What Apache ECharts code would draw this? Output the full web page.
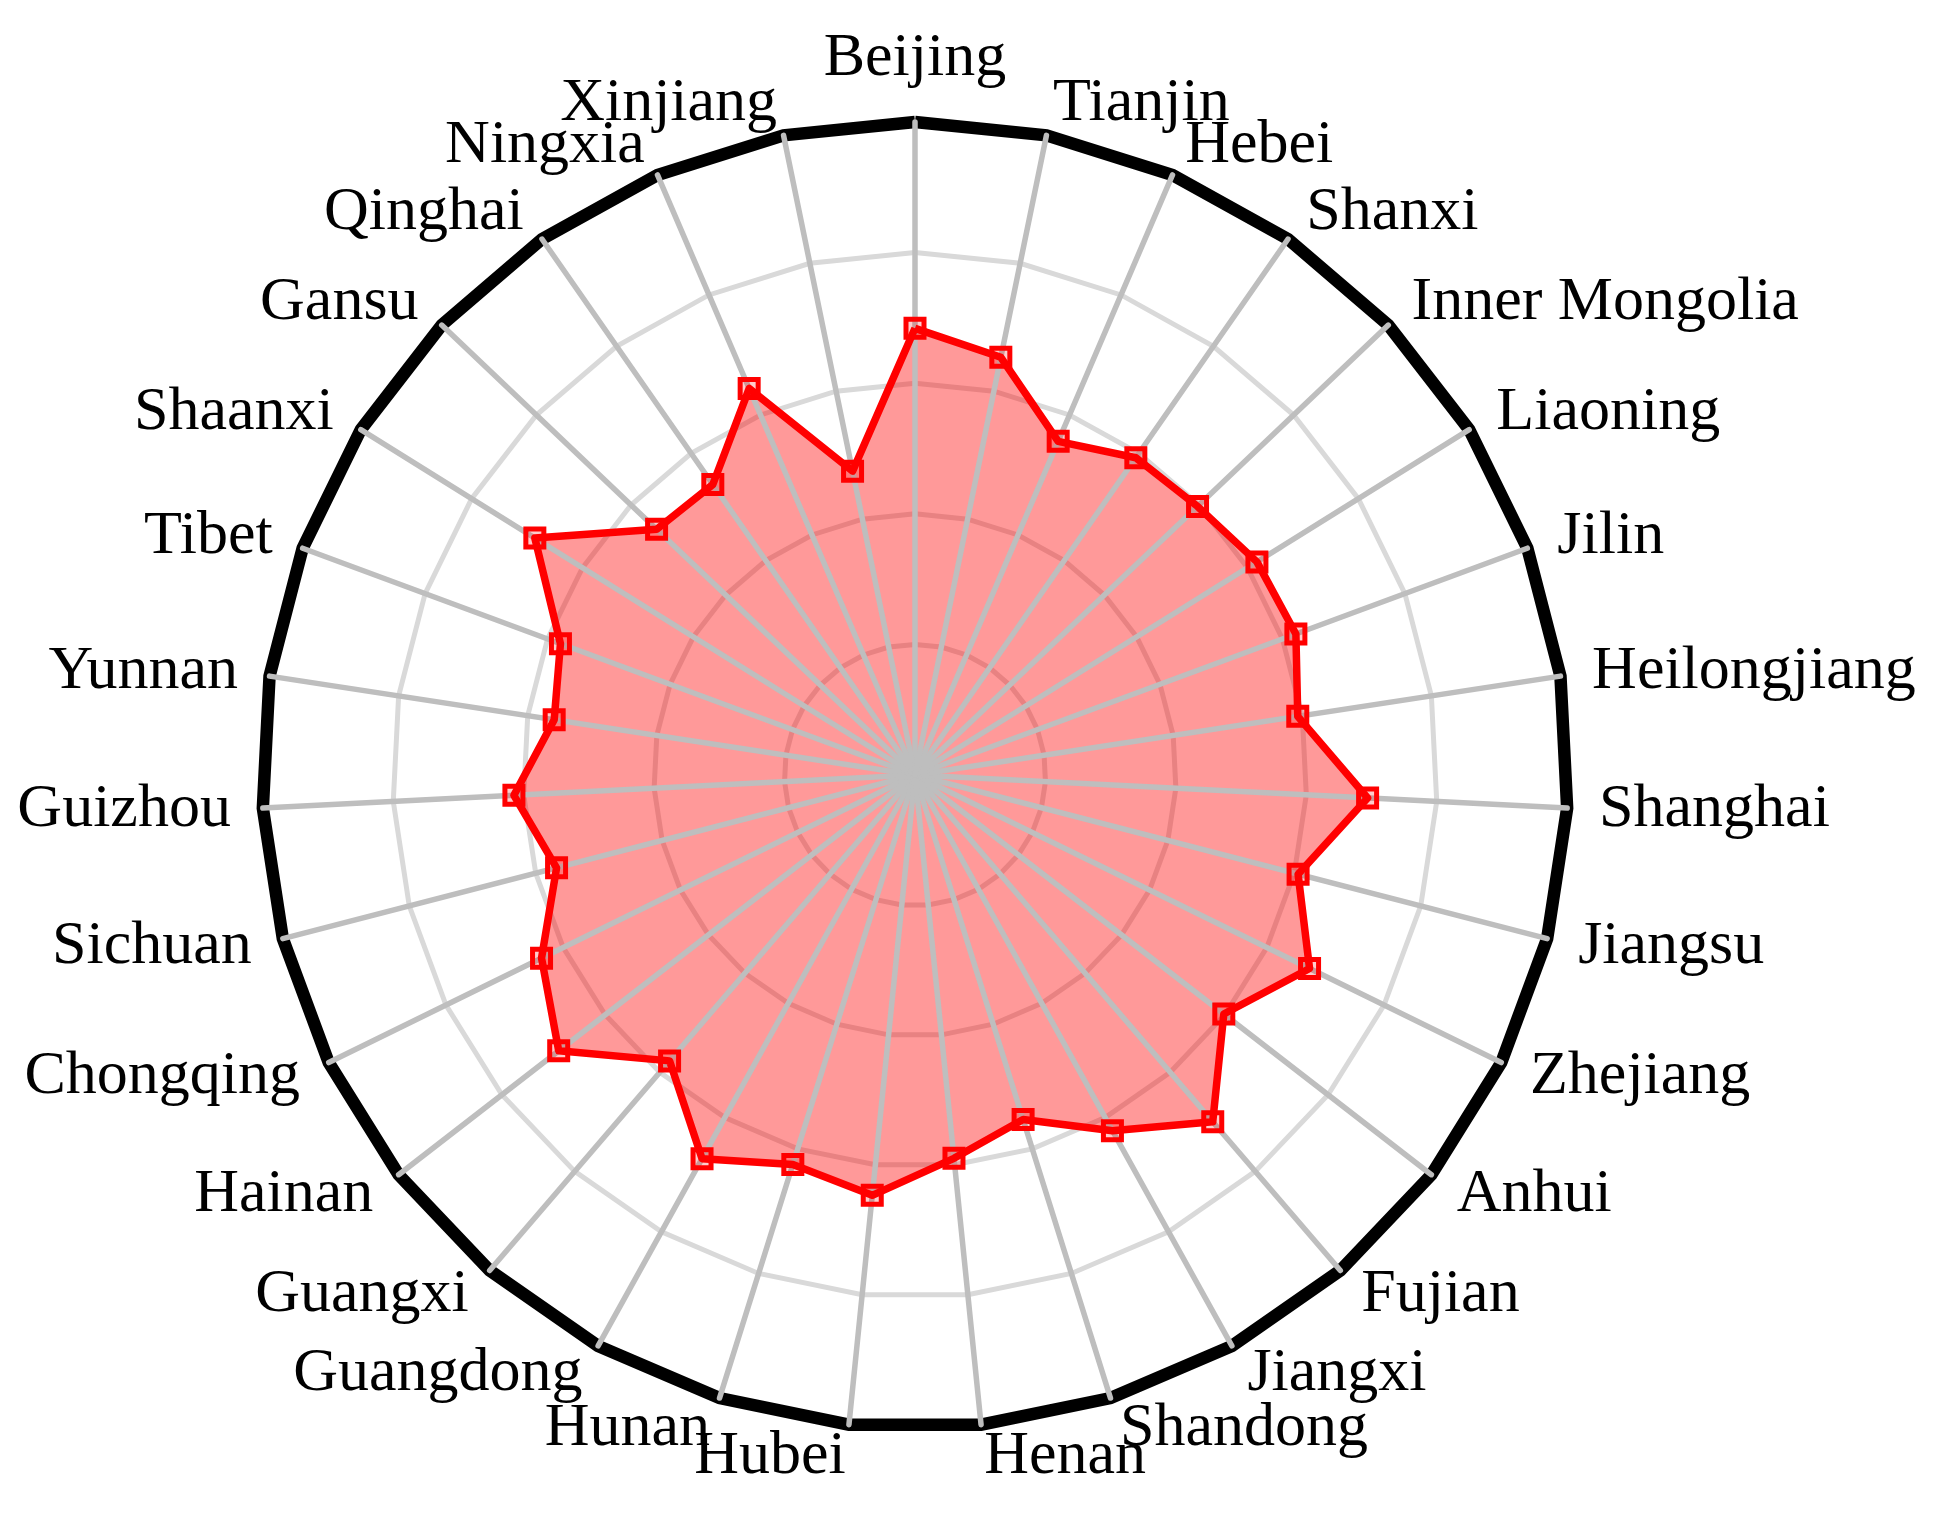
<!DOCTYPE html>
<html>
<head>
<meta charset="utf-8">
<script src="https://cdn.jsdelivr.net/npm/echarts@6/dist/echarts.min.js"></script>
<style>
html,body{margin:0;padding:0;background:#fff;}
#chart{width:1935px;height:1513px;}
</style>
</head>
<body>
<div id="chart"></div>
<script>
// Categories in clockwise order starting at the top
const provinces = ['Beijing','Tianjin','Hebei','Shanxi','Inner Mongolia','Liaoning','Jilin','Heilongjiang','Shanghai','Jiangsu','Zhejiang','Anhui','Fujian','Jiangxi','Shandong','Henan','Hubei','Hunan','Guangdong','Guangxi','Hainan','Chongqing','Sichuan','Guizhou','Yunnan','Tibet','Shaanxi','Gansu','Qinghai','Ningxia','Xinjiang'];
const values = [0.684,0.653,0.556,0.592,0.597,0.617,0.622,0.593,0.694,0.606,0.673,0.598,0.700,0.623,0.553,0.590,0.647,0.625,0.672,0.577,0.690,0.637,0.567,0.615,0.559,0.579,0.686,0.546,0.542,0.644,0.475];
const axisMax = 1;

// ECharts radar lays indicators counter-clockwise; reorder for clockwise layout
function clockwise(arr){ return [arr[0]].concat(arr.slice(1).reverse()); }
const indNames = clockwise(provinces);
const indValues = clockwise(values);
const indicators = indNames.map(n => ({name: n, max: axisMax, min: 0}));

const center = [915, 775];
const radius = 653;
const chart = echarts.init(document.getElementById('chart'), null, {renderer: 'canvas'});
chart.setOption({
  backgroundColor: '#fff',
  animation: false,
  radar: [
    { // rings (below fill)
      z: 0,
      center: center, radius: radius, startAngle: 90, shape: 'polygon',
      indicator: indicators, splitNumber: 5,
      axisName: {show: false},
      axisLine: {show: false},
      axisTick: {show: false}, axisLabel: {show: false},
      splitArea: {show: false},
      splitLine: {lineStyle: {color: '#d9d9d9', width: 5}}
    },
    { // spokes, outer ring, names (above fill)
      z: 2,
      center: center, radius: radius, startAngle: 90, shape: 'polygon',
      indicator: indicators, splitNumber: 1,
      axisNameGap: 32,
      axisName: {color: '#000', fontFamily: 'Liberation Serif', fontSize: 62},
      axisLine: {show: true, lineStyle: {color: '#bebebe', width: 5.5}},
      axisTick: {show: false}, axisLabel: {show: false},
      splitArea: {show: false},
      splitLine: {lineStyle: {color: '#000', width: 12.5}}
    }
  ],
  series: [
    {
      type: 'radar', radarIndex: 0, z: 1,
      symbol: 'none',
      lineStyle: {width: 0, opacity: 0},
      areaStyle: {color: 'rgba(255,0,0,0.4)', opacity: 1},
      data: [{value: indValues}]
    },
    {
      type: 'radar', radarIndex: 1, z: 3,
      symbol: 'rect', symbolSize: 18,
      lineStyle: {color: '#ff0000', width: 7.5},
      itemStyle: {color: 'rgba(255,0,0,0.2)', borderColor: '#ff0000', borderWidth: 5},
      data: [{value: indValues}]
    }
  ]
});
</script>
</body>
</html>
